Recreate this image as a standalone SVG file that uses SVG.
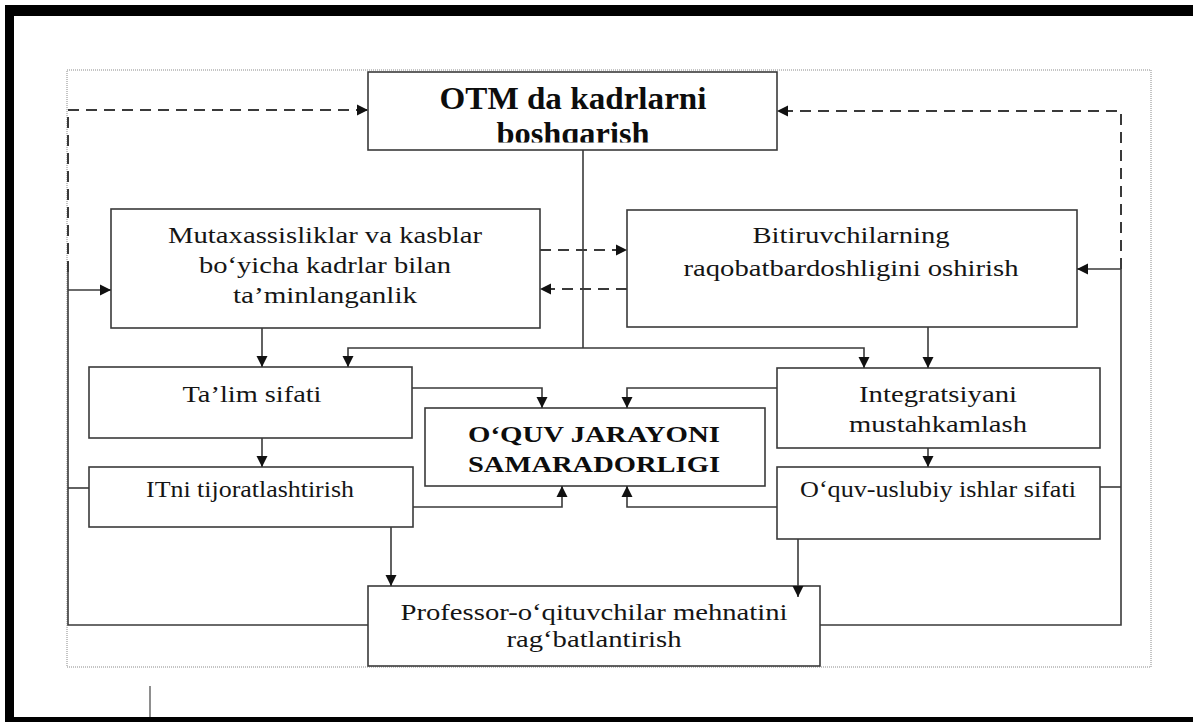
<svg xmlns="http://www.w3.org/2000/svg" width="1193" height="722" viewBox="0 0 1193 722">
<style>
.box{fill:#fff;stroke:#3a3a3a;stroke-width:1.6}
.t{font-family:"Liberation Serif","Times New Roman",serif;font-size:24px;fill:#151515;text-anchor:middle}
.b{font-weight:bold;fill:#0d0d0d}
.ln{fill:none;stroke:#3a3a3a;stroke-width:1.6}
.ds{fill:none;stroke:#3a3a3a;stroke-width:2;stroke-dasharray:11 7}
</style>
<defs>
<marker id="ah" markerUnits="userSpaceOnUse" markerWidth="12" markerHeight="12" refX="11" refY="6" orient="auto">
<path d="M0,0.5 L11,6 L0,11.5 z" fill="#111"/>
</marker>
<clipPath id="otmclip"><rect x="368" y="72" width="409" height="70.5"/></clipPath>
</defs>
<rect x="0" y="0" width="1193" height="722" fill="#fff"/>
<g id="frame">
<rect x="5" y="5" width="1188" height="11" fill="#000"/>
<rect x="5" y="5" width="9" height="717" fill="#000"/>
<rect x="5" y="717" width="1188" height="5" fill="#000"/>
<rect x="67" y="70" width="1084" height="597" fill="none" stroke="#8a8a8a" stroke-width="1" stroke-dasharray="1 1"/>
<line x1="150" y1="686" x2="150" y2="717" stroke="#444" stroke-width="1.2"/>
</g>
<g id="otm">
<rect class="box" x="368" y="72" width="409" height="78"/>
<g clip-path="url(#otmclip)">
<text class="t b" x="573" y="109" style="font-size:31.5px" textLength="267" lengthAdjust="spacingAndGlyphs">OTM da kadrlarni</text>
<text class="t b" x="573" y="144" style="font-size:31.5px" textLength="153" lengthAdjust="spacingAndGlyphs">boshqarish</text>
</g>
</g>
<g id="mutaxassisliklar">
<rect class="box" x="111" y="209" width="429" height="119"/>
<text class="t" x="325" y="243" textLength="314" lengthAdjust="spacingAndGlyphs">Mutaxassisliklar va kasblar</text>
<text class="t" x="325" y="273" textLength="252" lengthAdjust="spacingAndGlyphs">bo‘yicha kadrlar bilan</text>
<text class="t" x="325" y="303" textLength="184" lengthAdjust="spacingAndGlyphs">ta’minlanganlik</text>
</g>
<g id="bitiruvchilar">
<rect class="box" x="627" y="210" width="450" height="117"/>
<text class="t" x="851" y="243" textLength="197" lengthAdjust="spacingAndGlyphs">Bitiruvchilarning</text>
<text class="t" x="851" y="276" textLength="335" lengthAdjust="spacingAndGlyphs">raqobatbardoshligini oshirish</text>
</g>
<g id="talim">
<rect class="box" x="89" y="367" width="323" height="71"/>
<text class="t" x="252" y="402" textLength="139" lengthAdjust="spacingAndGlyphs">Ta’lim sifati</text>
</g>
<g id="itni">
<rect class="box" x="89" y="467" width="324" height="60"/>
<text class="t" x="250" y="497" textLength="208" lengthAdjust="spacingAndGlyphs">ITni tijoratlashtirish</text>
</g>
<g id="oquv-jarayoni">
<rect class="box" x="425" y="408" width="340" height="78"/>
<text class="t b" x="594" y="441.5" textLength="252" lengthAdjust="spacingAndGlyphs">O‘QUV JARAYONI</text>
<text class="t b" x="594" y="471.5" textLength="252" lengthAdjust="spacingAndGlyphs">SAMARADORLIGI</text>
</g>
<g id="integratsiya">
<rect class="box" x="777" y="368" width="323" height="80"/>
<text class="t" x="938" y="402" textLength="158" lengthAdjust="spacingAndGlyphs">Integratsiyani</text>
<text class="t" x="938" y="432" textLength="178" lengthAdjust="spacingAndGlyphs">mustahkamlash</text>
</g>
<g id="oquv-uslubiy">
<rect class="box" x="777" y="467" width="323" height="72"/>
<text class="t" x="938" y="497" textLength="276" lengthAdjust="spacingAndGlyphs">O‘quv-uslubiy ishlar sifati</text>
</g>
<g id="professor">
<rect class="box" x="368" y="586" width="452" height="80"/>
<text class="t" x="594" y="620" textLength="387" lengthAdjust="spacingAndGlyphs">Professor-o‘qituvchilar mehnatini</text>
<text class="t" x="594" y="647" textLength="175" lengthAdjust="spacingAndGlyphs">rag‘batlantirish</text>
</g>
<g id="connectors">
<path class="ln" d="M583,150 V348"/>
<path class="ln" d="M583,348 H348 V367" marker-end="url(#ah)"/>
<path class="ln" d="M583,348 H864 V368" marker-end="url(#ah)"/>
<path class="ln" d="M262,328 V367" marker-end="url(#ah)"/>
<path class="ln" d="M928,327 V368" marker-end="url(#ah)"/>
<path class="ln" d="M262,438 V467" marker-end="url(#ah)"/>
<path class="ln" d="M928,448 V467" marker-end="url(#ah)"/>
<path class="ln" d="M412,388 H542 V408" marker-end="url(#ah)"/>
<path class="ln" d="M777,388 H627 V408" marker-end="url(#ah)"/>
<path class="ln" d="M413,507 H562 V486" marker-end="url(#ah)"/>
<path class="ln" d="M777,507 H627 V486" marker-end="url(#ah)"/>
<path class="ln" d="M391,527 V586" marker-end="url(#ah)"/>
<path class="ln" d="M798,539 V597" marker-end="url(#ah)"/>
<path class="ln" d="M68,272 V625 H368"/>
<path class="ln" d="M68,290 H111" marker-end="url(#ah)"/>
<path class="ln" d="M68,488 H89"/>
<path class="ln" d="M1121,269 V625 H820"/>
<path class="ln" d="M1121,269 H1077" marker-end="url(#ah)"/>
<path class="ln" d="M1100,487 H1121"/>
<path class="ds" d="M68,272 V110 H368" marker-end="url(#ah)"/>
<path class="ds" d="M1121,269 V111 H777" marker-end="url(#ah)"/>
<path class="ds" d="M540,250 H627" marker-end="url(#ah)"/>
<path class="ds" d="M627,289 H540" marker-end="url(#ah)"/>
</g>
</svg>
